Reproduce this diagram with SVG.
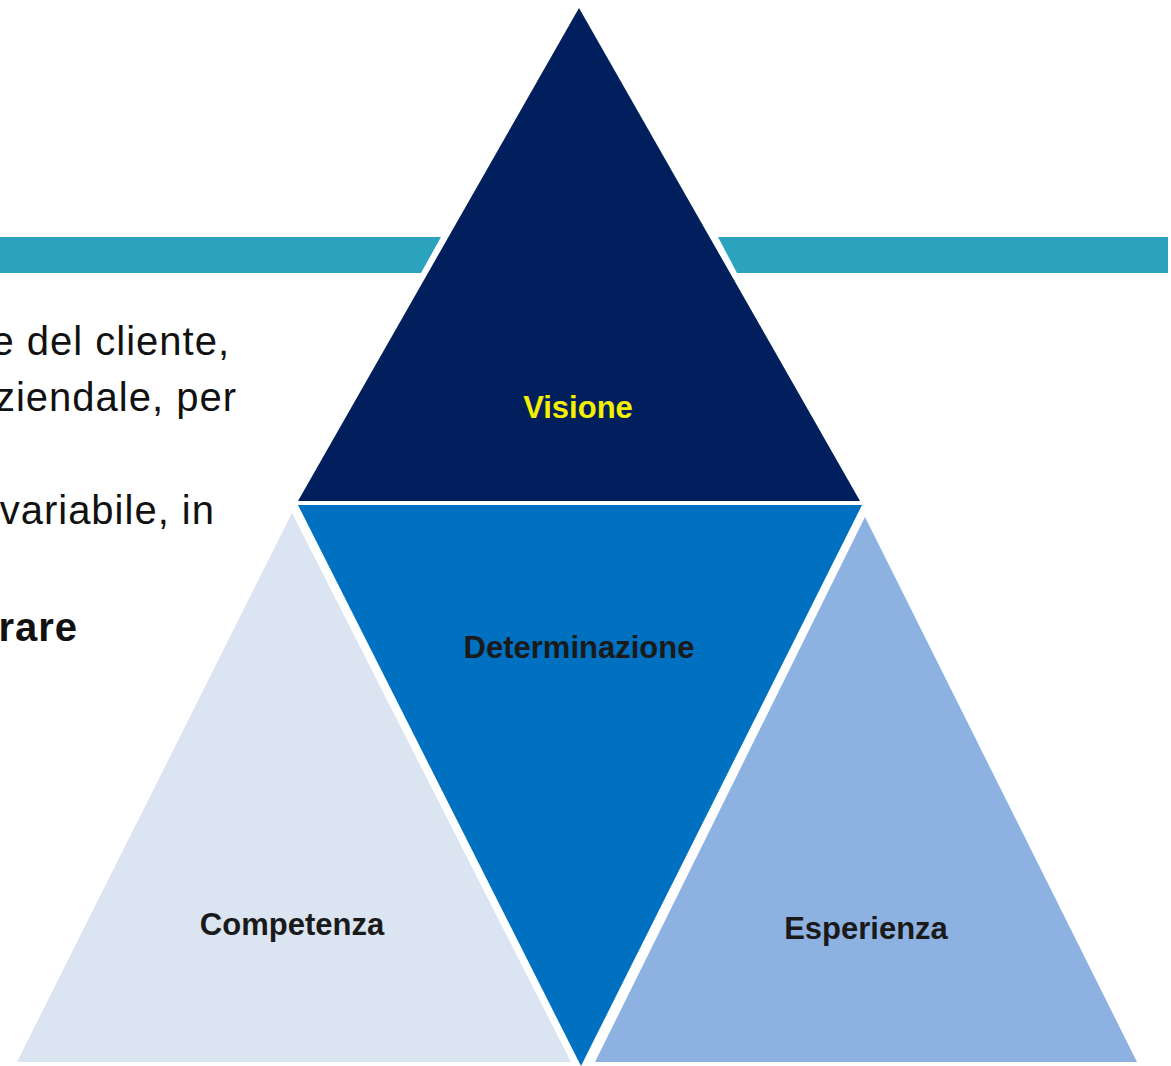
<svg xmlns="http://www.w3.org/2000/svg" width="1171" height="1066" viewBox="0 0 1171 1066">
<style>
.body{font-family:"Liberation Sans",Arial,sans-serif;font-size:40px;letter-spacing:1px;fill:#111111;text-anchor:end}
.lbl{font-family:"Liberation Sans",Arial,sans-serif;font-size:31px;font-weight:bold;text-anchor:middle;fill:#1a1a1a}
</style>
<rect width="1171" height="1066" fill="#ffffff"/>
<g id="bar">
<polygon points="0,237 441,237 421,273 0,273" fill="#2ba3bf"/>
<polygon points="718,237 1168,237 1168,273 737,273" fill="#2ba3bf"/>
</g>
<g id="text">
<text class="body" x="230" y="355">e del cliente,</text>
<text class="body" x="237" y="411">ziendale, per</text>
<text class="body" x="215" y="524">variabile, in</text>
<text class="body" x="78" y="641" font-weight="bold">rare</text>
</g>
<g id="visione">
<polygon points="579,8 298,501 860,501" fill="#001f5c"/>
<text class="lbl" x="578" y="418" style="fill:#f5f000">Visione</text>
</g>
<g id="competenza">
<polygon points="292,513 17,1062 571,1062" fill="#dbe4f1"/>
<text class="lbl" x="292" y="935">Competenza</text>
</g>
<g id="esperienza">
<polygon points="865,517 595,1062 1137,1062" fill="#8db2e2"/>
<text class="lbl" x="866" y="939">Esperienza</text>
</g>
<g id="determinazione">
<polygon points="298,505 862,505 581,1066" fill="#0070c0"/>
<text class="lbl" x="579" y="658">Determinazione</text>
</g>
</svg>
